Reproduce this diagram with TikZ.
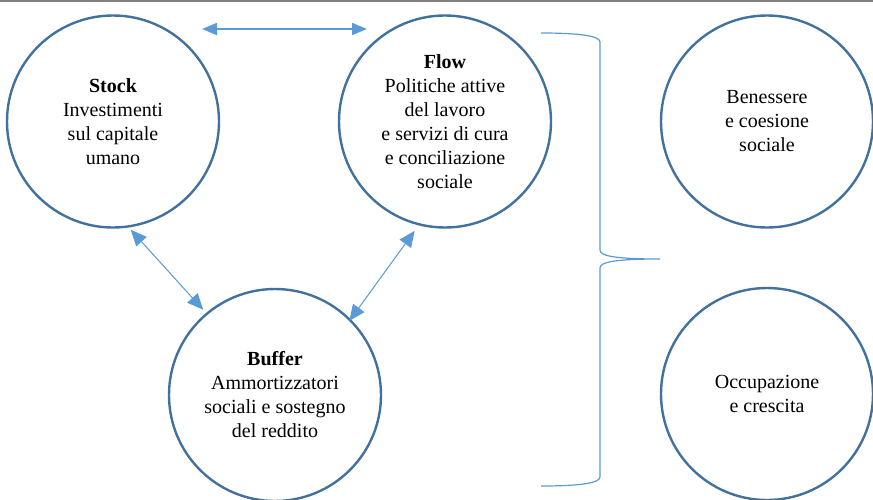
\documentclass[tikz,border=0pt]{standalone}
\usepackage{fontspec}
\setmainfont{Liberation Serif}
\usetikzlibrary{arrows.meta}
\definecolor{circ}{HTML}{41719C}
\definecolor{arrc}{HTML}{5B9BD5}
\definecolor{topg}{HTML}{808080}
\begin{document}
\begin{tikzpicture}[x=1pt,y=-1pt,
  bubble/.style={circle, draw=circ, line width=2.4pt, minimum size=212pt, inner sep=0pt, outer sep=0pt, align=center, font=\fontsize{20}{24}\selectfont},
  link/.style={draw=arrc, fill=arrc, line width=1pt, {Triangle[length=16pt,width=14pt]}-{Triangle[length=16pt,width=14pt]}},
  toplink/.style={link, line width=1.8pt, {Triangle[length=15pt,width=12pt]}-{Triangle[length=15pt,width=12pt]}},
  bracket/.style={draw=arrc, line width=1.2pt}]
\useasboundingbox (0,0) rectangle (873,499);
\draw[topg, line width=2.5pt] (0,1) -- (873,1);
\node[bubble] (stock) at (113,121.5) {\textbf{Stock}\\Investimenti\\sul capitale\\umano};
\node[bubble] (flow) at (445,121.5) {\textbf{Flow}\\Politiche attive\\del lavoro\\e servizi di cura\\e conciliazione\\sociale};
\node[bubble] (buffer) at (275,395) {\textbf{Buffer}\\Ammortizzatori\\sociali e sostegno\\del reddito};
\node[bubble] (ben) at (767,121.5) {Benessere\\e coesione\\sociale};
\node[bubble] (occ) at (767,394) {Occupazione\\e crescita};
\coordinate (tl) at (202,29);
\coordinate (tr) at (367,29);
\draw[toplink] (tl) -- (tr);
\draw[link, shorten <=4.5pt, shorten >=5.5pt] (stock.-82) -- (buffer.130.5);
\draw[link, shorten <=8pt, shorten >=-1pt] (flow.-104) -- (buffer.45.6);
\coordinate (bt) at (541,33);
\coordinate (bb) at (541,486);
\coordinate (tip) at (660,259);
\draw[bracket] (bt) .. controls (580,33) and (600,36) .. (600,42) -- (600,250)
  .. controls (600,256) and (615,259) .. (tip)
  .. controls (615,259) and (600,262) .. (600,268) -- (600,477)
  .. controls (600,483) and (580,486) .. (bb);
\end{tikzpicture}
\end{document}
